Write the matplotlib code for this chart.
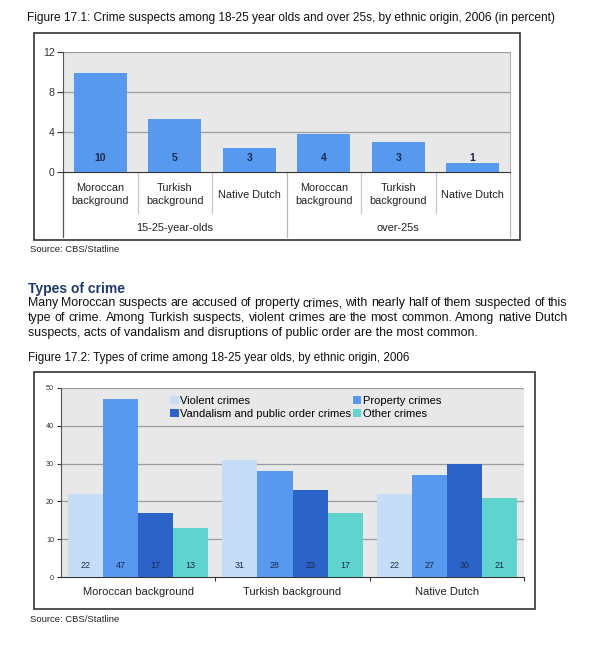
import matplotlib
matplotlib.use('Agg')
import matplotlib.pyplot as plt
from matplotlib.patches import Rectangle

plt.rcParams['font.family'] = ['Liberation Sans', 'DejaVu Sans']

# Figure 17.1 data
fig1_categories = ['Moroccan\nbackground', 'Turkish\nbackground', 'Native Dutch',
                   'Moroccan\nbackground', 'Turkish\nbackground', 'Native Dutch']
fig1_groups = ['15-25-year-olds', 'over-25s']
fig1_values = [9.9, 5.3, 2.4, 3.8, 3.0, 0.9]
fig1_labels = ['10', '5', '3', '4', '3', '1']
fig1_yticks = [0, 4, 8, 12]

# Figure 17.2 data
fig2_groups = ['Moroccan background', 'Turkish background', 'Native Dutch']
fig2_series = ['Violent crimes', 'Property crimes',
               'Vandalism and public order crimes', 'Other crimes']
violent = [22, 31, 22]
property_ = [47, 28, 27]
vandalism = [17, 23, 30]
other = [13, 17, 21]
fig2_yticks = [0, 10, 20, 30, 40, 50]

paragraph = [
    "Many Moroccan suspects are accused of property crimes, with nearly half of them suspected of this",
    "type of crime. Among Turkish suspects, violent crimes are the most common. Among native Dutch",
    "suspects, acts of vandalism and disruptions of public order are the most common.",
]

W, H = 602, 650
BAR = '#5699ee'
COLORS = ['#c6ddf8', '#5699ee', '#2b63c9', '#5fd3cd']
GRIDC = '#9c9c9c'
FACE = '#e8e8e8'

fig = plt.figure(figsize=(W / 100, H / 100), dpi=100)
fig.patch.set_facecolor('white')


def fx(px):
    return px / W


def fy(py):
    return 1 - py / H


def justified(words_line, x0, x1, y, **kw):
    # spread the words so the line fills x0..x1 (pixels)
    renderer = fig.canvas.get_renderer()
    words = words_line.split()
    texts = [fig.text(0, fy(y), w, va='center', ha='left', **kw) for w in words]
    widths = [t.get_window_extent(renderer).width for t in texts]
    gap = (x1 - x0 - sum(widths)) / (len(words) - 1)
    x = x0
    for t, w in zip(texts, widths):
        t.set_x(fx(x))
        x += w + gap


# ---------- Figure 17.1 ----------
fig.text(fx(27), fy(18), 'Figure 17.1: Crime suspects among 18-25 year olds and over 25s, '
         'by ethnic origin, 2006 (in percent)', fontsize=8.6, va='center', color='#111111')
fig.add_artist(Rectangle((fx(34), fy(240)), fx(520) - fx(34), fy(33) - fy(240),
                         transform=fig.transFigure, fill=False, ec='#333333', lw=1.2))

ax1 = fig.add_axes([fx(63), fy(172), fx(510) - fx(63), fy(52) - fy(172)])
ax1.set_facecolor(FACE)
x1 = list(range(len(fig1_values)))
ax1.bar(x1, fig1_values, width=0.71, color=BAR, zorder=3)
for xi, lab in zip(x1, fig1_labels):
    ax1.text(xi, 1.4, lab, ha='center', va='center', fontsize=7.6,
             fontweight='bold', color='#1c2a4a', zorder=4)
ax1.set_xlim(-0.5, 5.5)
ax1.set_ylim(0, 12)
ax1.set_yticks(fig1_yticks)
ax1.set_xticks([])
ax1.tick_params(axis='y', length=4, width=0.8, labelsize=7.6, colors='#333333', pad=2)
for y in fig1_yticks[1:]:
    ax1.axhline(y, color=GRIDC, lw=0.9, zorder=1)
ax1.spines['top'].set_visible(False)
ax1.spines['right'].set_color('#b0b0b0')
ax1.spines['left'].set_color('#555555')
ax1.spines['bottom'].set_color('#333333')
trans = ax1.get_xaxis_transform()
for xb in [0.5, 1.5, 3.5, 4.5]:
    ax1.plot([xb, xb], [0, -0.342], transform=trans, color='#c8c8c8', lw=0.9, clip_on=False)
for xb in [-0.5, 2.5, 5.5]:
    ax1.plot([xb, xb], [0, -0.542], transform=trans, color='#b8b8b8' if xb != -0.5 else '#555555',
             lw=0.9, clip_on=False)
for xi, cat in zip(x1, fig1_categories):
    ax1.text(xi, -0.19, cat, transform=trans, ha='center', va='center', fontsize=7.8,
             linespacing=1.4, color='#222222')
for gi, g in enumerate(fig1_groups):
    ax1.text(1 + 3 * gi, -0.467, g, transform=trans, ha='center', va='center',
             fontsize=7.9, color='#222222')
fig.text(fx(30), fy(249), 'Source: CBS/Statline', fontsize=6.8, va='center', color='#222222')

# ---------- Text ----------
fig.text(fx(28), fy(289), 'Types of crime', fontsize=10, fontweight='bold',
         color='#1f3a6e', va='center')
for i, line in enumerate(paragraph):
    y = 303 + 15 * i
    if i < len(paragraph) - 1:
        justified(line, 28, 567, y, fontsize=8.9, color='#111111')
    else:
        fig.text(fx(28), fy(y), line, fontsize=8.9, va='center', color='#111111')
fig.text(fx(28), fy(358), 'Figure 17.2: Types of crime among 18-25 year olds, by ethnic origin, 2006',
         fontsize=8.4, va='center', color='#111111')

# ---------- Figure 17.2 ----------
fig.add_artist(Rectangle((fx(34), fy(609)), fx(535) - fx(34), fy(372) - fy(609),
                         transform=fig.transFigure, fill=False, ec='#333333', lw=1.2))
ax2 = fig.add_axes([fx(61), fy(577), fx(524) - fx(61), fy(388) - fy(577)])
ax2.set_facecolor(FACE)
series_vals = [violent, property_, vandalism, other]
bw = 0.227
handles = []
for si, (vals, col) in enumerate(zip(series_vals, COLORS)):
    xs = [g + (si - 1.5) * bw for g in range(len(fig2_groups))]
    h = ax2.bar(xs, vals, width=bw, color=col, zorder=3, label=fig2_series[si])
    handles.append(h)
    for xv, v in zip(xs, vals):
        ax2.text(xv, 3, str(v), ha='center', va='center', fontsize=6.4,
                 color='#1c2a4a', zorder=4)
ax2.set_xlim(-0.5, 2.5)
ax2.set_ylim(0, 50)
ax2.set_yticks(fig2_yticks)
ax2.tick_params(axis='y', length=3, width=0.8, labelsize=5.2, colors='#333333', pad=2)
ax2.set_xticks([0.5, 1.5, 2.5])
ax2.set_xticklabels([])
ax2.tick_params(axis='x', length=3, width=0.8, colors='#333333')
for y in fig2_yticks[1:]:
    ax2.axhline(y, color=GRIDC, lw=0.9, zorder=1)
ax2.spines['top'].set_visible(False)
ax2.spines['right'].set_visible(False)
ax2.spines['left'].set_color('#555555')
ax2.spines['bottom'].set_color('#333333')
trans2 = ax2.get_xaxis_transform()
for gi, g in enumerate(fig2_groups):
    ax2.text(gi, -0.08, g, transform=trans2, ha='center', va='center', fontsize=8.0,
             color='#222222')
order = [0, 2, 1, 3]
ax2.legend([handles[i] for i in order], [fig2_series[i] for i in order], ncol=2,
           loc='upper left', bbox_to_anchor=(0.222, 0.995), frameon=False, fontsize=8.0,
           handlelength=0.75, handleheight=0.75, handletextpad=0.15, columnspacing=0.15,
           labelspacing=0.3, borderaxespad=0.2)
fig.text(fx(30), fy(620), 'Source: CBS/Statline', fontsize=6.8, va='center', color='#222222')

fig.savefig('out.png', dpi=100, facecolor='white')
